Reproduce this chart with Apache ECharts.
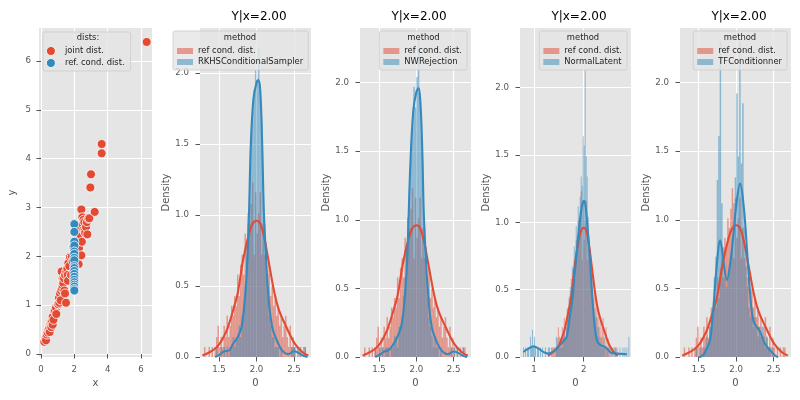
<!DOCTYPE html>
<html>
<head>
<meta charset="utf-8">
<title>Y|x=2.00</title>
<script src="https://cdn.jsdelivr.net/npm/echarts@6.0.0/dist/echarts.min.js"></script>
<style>
html, body { margin: 0; padding: 0; background: #fff; }
#chart { width: 800px; height: 400px; }
</style>
</head>
<body>
<div id="chart"></div>
<script>
var FONT = 'DejaVu Sans';
var RED = '#E24A33', BLUE = '#348ABD';
var RED_A = 'rgba(226,74,51,0.5)', BLUE_A = 'rgba(52,138,189,0.5)';

// ---- scatter panel: joint sample and reference conditional sample at x=2
var jointX = [0.20, 0.28, 0.30, 0.35, 0.40, 0.45, 0.50, 0.52, 0.55, 0.58, 0.64, 0.62, 0.70, 0.70, 0.75, 0.80,
  0.84, 0.90, 0.92, 1.00, 1.04, 1.08, 1.10, 1.14, 1.18, 1.20, 1.24, 1.25, 1.30, 1.30, 1.34, 1.38, 1.40, 1.44,
  1.45, 1.50, 1.52, 1.58, 1.60, 1.62, 1.64, 1.70, 1.74, 1.80, 1.85, 1.90, 1.95, 2.05, 2.10, 2.15, 2.20, 2.26,
  2.28, 2.28, 2.30, 2.35, 2.40, 2.42, 2.42, 2.45, 2.48, 2.50, 2.54, 2.55, 2.60, 2.62, 2.65, 2.70, 2.75, 2.78,
  2.84, 2.90, 2.96, 3.00, 3.22, 3.64, 3.64, 6.34];
var jointY = [0.25, 0.32, 0.28, 0.40, 0.44, 0.50, 0.53, 0.45, 0.62, 0.60, 0.66, 0.55, 0.76, 0.60, 0.70, 0.88,
  0.89, 0.95, 0.82, 1.02, 1.02, 1.15, 1.05, 1.24, 1.10, 1.30, 1.69, 1.35, 1.40, 1.55, 1.45, 1.55, 1.30, 1.24,
  1.62, 1.05, 1.70, 1.75, 1.62, 1.50, 1.86, 1.80, 1.99, 1.62, 2.00, 1.90, 2.20, 1.75, 2.15, 2.30, 2.00, 1.84,
  2.34, 2.17, 2.55, 2.45, 2.60, 2.02, 2.96, 2.30, 2.80, 2.65, 2.54, 2.75, 2.70, 2.52, 2.48, 2.60, 2.70, 2.45,
  2.77, 2.78, 3.41, 3.68, 2.91, 4.11, 4.30, 6.39];
var refX = [2, 2, 2, 2, 2, 2, 2, 2, 2, 2, 2, 2, 2, 2, 2, 2, 2, 2, 2];
var refY = [2.66, 2.50, 2.30, 2.22, 2.10, 2.05, 1.97, 1.92, 1.80, 1.76, 1.70, 1.64, 1.58, 1.52, 1.47, 1.42,
  1.38, 1.33, 1.30];
var scatterXTicks = [0, 2, 4, 6];
var scatterYTicks = [0, 1, 2, 3, 4, 5, 6];

// ---- histograms (density), bins of 0.02
var binWidth = 0.02;
var binStart = 1.30;      // ref, RKHS, NW, TF
var latentStart = 0.78;   // NormalLatent
var refHist = [0.07, 0, 0, 0.07, 0, 0.07, 0, 0.07, 0.14, 0.22,
  0.07, 0.14, 0.07, 0.22, 0.14, 0.29, 0.14, 0.22, 0.36, 0.29,
  0.43, 0.36, 0.58, 0.43, 0.65, 0.72, 0.58, 0.87, 0.80, 1.01,
  0.94, 1.08, 1.23, 0.72, 1.16, 0.87, 1.01, 1.16, 0.72, 0.94,
  0.72, 0.80, 0.58, 0.65, 0.43, 0.50, 0.36, 0.43, 0.29, 0.36,
  0.22, 0.29, 0.14, 0.22, 0.29, 0.14, 0.07, 0.22, 0.07, 0.14,
  0.07, 0, 0.07, 0, 0.07, 0, 0.07, 0.07, 0];
var rkhsHist = [0, 0, 0, 0, 0, 0, 0, 0, 0.07, 0,
  0, 0.07, 0, 0.07, 0, 0.07, 0, 0.07, 0.07, 0.14,
  0.07, 0.14, 0.14, 0.22, 0.14, 0.29, 0.36, 0.50, 0.72, 0.94,
  1.30, 1.52, 1.73, 1.88, 2.02, 1.95, 2.17, 1.88, 1.66, 1.30,
  0.94, 0.72, 0.43, 0.29, 0.22, 0.14, 0.14, 0.07, 0.07, 0.07,
  0, 0.07, 0, 0, 0, 0, 0, 0, 0.07, 0.07,
  0.07, 0, 0, 0.07, 0, 0, 0, 0.07, 0];
var nwHist = [0, 0, 0, 0, 0, 0, 0, 0.07, 0, 0,
  0.07, 0, 0.07, 0, 0.07, 0.07, 0.07, 0, 0.07, 0.07,
  0.15, 0.15, 0.07, 0.22, 0.22, 0.29, 0.44, 0.58, 0.80, 1.02,
  1.24, 1.46, 1.68, 1.97, 1.82, 2.04, 2.33, 1.90, 1.60, 1.24,
  0.95, 0.66, 0.44, 0.29, 0.22, 0.15, 0.07, 0.15, 0.07, 0.07,
  0, 0.07, 0, 0, 0, 0, 0, 0, 0.07, 0,
  0.07, 0, 0.07, 0, 0, 0, 0.07, 0, 0];
var latentHist = [0.07, 0, 0.07, 0, 0.07, 0.07, 0, 0.15, 0.07, 0.20,
  0.07, 0.15, 0.07, 0, 0.07, 0.07, 0, 0.07, 0, 0.07,
  0, 0, 0.07, 0, 0, 0.07, 0, 0, 0.07, 0,
  0.07, 0, 0.07, 0.15, 0.07, 0.07, 0.15, 0.07, 0.15, 0.07,
  0.15, 0.22, 0.15, 0.22, 0.30, 0.37, 0.45, 0.52, 0.45, 0.67,
  0.60, 0.82, 0.75, 0.97, 0.90, 1.12, 1.04, 1.19, 1.34, 1.27,
  1.64, 1.57, 2.13, 1.49, 1.34, 1.04, 0.90, 0.75, 0.60, 0.52,
  0.37, 0.30, 0.22, 0.30, 0.15, 0.22, 0.15, 0.07, 0.15, 0.07,
  0.07, 0.15, 0.07, 0, 0.07, 0.07, 0, 0.07, 0, 0.07,
  0, 0, 0.07, 0, 0.07, 0, 0, 0.07, 0, 0,
  0.07, 0, 0.07, 0, 0.07, 0, 0.15];
var tfHist = [0, 0, 0, 0, 0, 0, 0, 0, 0.07, 0,
  0, 0.07, 0, 0.07, 0.07, 0.15, 0.07, 0.22, 0.29, 0.36,
  0.58, 0.73, 1.29, 1.61, 2.30, 1.12, 0.80, 0.58, 0.51, 0.58,
  0.66, 0.73, 0.87, 1.12, 1.31, 1.92, 1.46, 2.30, 1.41, 1.85,
  0.95, 0.66, 0.51, 0.36, 0.29, 0.36, 0.22, 0.29, 0.22, 0.15,
  0.22, 0.15, 0.22, 0.15, 0.07, 0.15, 0.07, 0.07, 0, 0.07,
  0, 0, 0, 0, 0, 0, 0, 0, 0];

// ---- KDE curves
var refKdeX = [1.28, 1.38, 1.45, 1.51, 1.57, 1.62, 1.70, 1.75, 1.82, 1.90, 1.95, 2.00, 2.05, 2.10, 2.16, 2.24, 2.30, 2.40, 2.51, 2.61, 2.69];
var refKdeY = [0.01, 0.035, 0.06, 0.094, 0.15, 0.21, 0.35, 0.45, 0.68, 0.87, 0.94, 0.96, 0.94, 0.85, 0.68, 0.45, 0.33, 0.21, 0.094, 0.035, 0.01];
var rkhsKdeX = [1.45, 1.52, 1.57, 1.63, 1.69, 1.75, 1.80, 1.84, 1.86, 1.88, 1.90, 1.925, 1.96, 2.00, 2.025, 2.05, 2.076, 2.10, 2.13, 2.156, 2.21, 2.29, 2.35, 2.42, 2.50, 2.56, 2.62, 2.68];
var rkhsKdeY = [0.0, 0.02, 0.04, 0.045, 0.094, 0.14, 0.21, 0.38, 0.50, 0.70, 1.0, 1.5, 1.82, 1.93, 1.95, 1.88, 1.5, 1.0, 0.68, 0.45, 0.21, 0.094, 0.04, 0.02, 0.04, 0.03, 0.01, 0.0];
var nwKdeX = [1.45, 1.52, 1.57, 1.63, 1.69, 1.75, 1.80, 1.84, 1.87, 1.89, 1.92, 1.96, 2.00, 2.03, 2.055, 2.08, 2.10, 2.13, 2.16, 2.21, 2.29, 2.35, 2.42, 2.50, 2.56, 2.62, 2.68];
var nwKdeY = [0.0, 0.02, 0.04, 0.05, 0.09, 0.15, 0.23, 0.40, 0.62, 0.90, 1.40, 1.80, 1.93, 1.96, 1.85, 1.50, 1.05, 0.70, 0.45, 0.21, 0.09, 0.04, 0.02, 0.04, 0.03, 0.01, 0.0];
var latentKdeX = [0.785, 0.88, 0.986, 1.10, 1.20, 1.29, 1.42, 1.52, 1.60, 1.66, 1.72, 1.77, 1.82, 1.86, 1.92, 1.97, 2.01, 2.05, 2.10, 2.13, 2.19, 2.26, 2.33, 2.43, 2.50, 2.56, 2.70, 2.87];
var latentKdeY = [0.037, 0.06, 0.079, 0.06, 0.035, 0.025, 0.05, 0.087, 0.12, 0.15, 0.30, 0.42, 0.62, 0.78, 1.0, 1.13, 1.16, 1.08, 0.85, 0.70, 0.36, 0.13, 0.09, 0.075, 0.05, 0.03, 0.025, 0.02];
var tfKdeX = [1.50, 1.55, 1.59, 1.65, 1.69, 1.74, 1.787, 1.83, 1.876, 1.92, 1.964, 2.00, 2.053, 2.10, 2.142, 2.18, 2.23, 2.29, 2.33, 2.38, 2.45, 2.52, 2.56];
var tfKdeY = [0.0, 0.01, 0.04, 0.12, 0.32, 0.66, 0.85, 0.70, 0.56, 0.68, 0.90, 1.10, 1.264, 1.10, 0.80, 0.50, 0.26, 0.21, 0.17, 0.10, 0.05, 0.01, 0.0];

var methods = ['RKHSConditionalSampler', 'NWRejection', 'NormalLatent', 'TFConditionner'];
var densityTicks = [0, 0.5, 1.0, 1.5, 2.0];
var histXTicks = [1.5, 2.0, 2.5];
var latentXTicks = [1, 2];
var refName = 'ref cond. dist.';

// ---- layout of the four density panels
var panels = [
  { left: 200, xMin: 1.247, xMax: 2.727, yMax: 2.317, ticks: histXTicks, hist: rkhsHist, start: binStart,
    kx: rkhsKdeX, ky: rkhsKdeY, legend: { left: 173 }, titleX: 240 },
  { left: 360, xMin: 1.246, xMax: 2.732, yMax: 2.398, ticks: histXTicks, hist: nwHist, start: binStart,
    kx: nwKdeX, ky: nwKdeY, legend: { right: 333 }, titleX: 423.5 },
  { left: 520, xMin: 0.718, xMax: 2.952, yMax: 2.443, ticks: latentXTicks, hist: latentHist, start: latentStart,
    kx: latentKdeX, ky: latentKdeY, legend: { right: 173 }, titleX: 583 },
  { left: 680, xMin: 1.251, xMax: 2.731, yMax: 2.398, ticks: histXTicks, hist: tfHist, start: binStart,
    kx: tfKdeX, ky: tfKdeY, legend: { right: 13 }, titleX: 740 }
];

function pairs(xs, ys) {
  return xs.map(function (x, i) { return [x, ys[i]]; });
}
function bins(values, start) {
  var out = [];
  values.forEach(function (v, i) {
    if (v > 0) out.push([start + i * binWidth, start + (i + 1) * binWidth, v]);
  });
  return out;
}
function barRenderer(fill) {
  return function (params, api) {
    var a = api.coord([api.value(0), api.value(2)]);
    var b = api.coord([api.value(1), 0]);
    return {
      type: 'rect',
      shape: { x: a[0], y: a[1], width: b[0] - a[0], height: b[1] - a[1] },
      style: { fill: fill }
    };
  };
}
function axis(extra, ticks, fmt, margin) {
  var base = {
    type: 'value',
    axisLine: { show: false },
    axisTick: { show: true, length: 4.5, customValues: ticks, lineStyle: { color: '#555', width: 1 } },
    axisLabel: { customValues: ticks, color: '#555', fontSize: 8.6, fontFamily: FONT, margin: margin, formatter: fmt },
    splitLine: { show: true, lineStyle: { color: '#fff', width: 1.1 } },
    nameLocation: 'middle',
    nameTextStyle: { color: '#555', fontSize: 10, fontFamily: FONT }
  };
  for (var k in extra) base[k] = extra[k];
  return base;
}
function fixed1(v) { return v.toFixed(1); }
function plain(v) { return String(Math.round(v)); }

var grids = [{ left: 39, top: 28, width: 113, height: 329 }];
var xAxes = [axis({ gridIndex: 0, min: -0.12, max: 6.66, name: 'x', nameGap: 21 }, scatterXTicks, plain, 8)];
var yAxes = [axis({ gridIndex: 0, min: -0.061, max: 6.676, name: 'y', nameGap: 22 }, scatterYTicks, plain, 8)];
var titles = [];
var legends = [{
  orient: 'vertical', left: 43, top: 32, padding: [14, 6, 3, 3],
  itemWidth: 18, itemHeight: 9, itemGap: 2, icon: 'circle', selectedMode: false,
  backgroundColor: 'rgba(229,229,229,0.8)', borderColor: 'rgba(204,204,204,0.8)', borderWidth: 1, borderRadius: 2,
  textStyle: { fontFamily: FONT, fontSize: 8.4, color: '#222', lineHeight: 10 },
  data: [
    { name: 'joint dist.', itemStyle: { color: RED, borderColor: '#fff', borderWidth: 0.8 } },
    { name: 'ref. cond. dist.', itemStyle: { color: BLUE, borderColor: '#fff', borderWidth: 0.8 } }
  ]
}];
var graphics = [{
  type: 'text', x: 88, y: 38, z: 100,
  style: { text: 'dists:', fill: '#222', fontSize: 8.4, fontFamily: FONT, align: 'center', verticalAlign: 'middle' }
}];
var series = [
  { type: 'scatter', name: 'joint dist.', xAxisIndex: 0, yAxisIndex: 0, data: pairs(jointX, jointY),
    symbolSize: 9, itemStyle: { color: RED, borderColor: '#fff', borderWidth: 0.8, opacity: 1 } },
  { type: 'scatter', name: 'ref. cond. dist.', xAxisIndex: 0, yAxisIndex: 0, data: pairs(refX, refY),
    symbolSize: 9, itemStyle: { color: BLUE, borderColor: '#fff', borderWidth: 0.8, opacity: 1 } }
];

panels.forEach(function (p, k) {
  var g = k + 1;
  grids.push({ left: p.left, top: 28, width: 111, height: 329 });
  xAxes.push(axis({ gridIndex: g, min: p.xMin, max: p.xMax, name: '0', nameGap: 21 },
    p.ticks, p.ticks === latentXTicks ? plain : fixed1, 8));
  yAxes.push(axis({ gridIndex: g, min: 0, max: p.yMax, name: 'Density', nameGap: 29 }, densityTicks, fixed1, 11));
  titles.push({
    text: 'Y|x=2.00', left: p.left + 54, top: 6, textAlign: 'center',
    textStyle: { fontFamily: FONT, fontSize: 12, fontWeight: 'normal', color: '#000' }
  });
  var lg = {
    orient: 'vertical', top: 31, padding: [15, 5, 3, 4],
    itemWidth: 16, itemHeight: 6, itemGap: 1, icon: 'rect', selectedMode: false,
    backgroundColor: 'rgba(229,229,229,0.8)', borderColor: 'rgba(204,204,204,0.8)', borderWidth: 1, borderRadius: 2,
    textStyle: { fontFamily: FONT, fontSize: 8.4, color: '#222', lineHeight: 10 },
    data: [
      { name: refName, itemStyle: { color: RED_A } },
      { name: methods[k], itemStyle: { color: BLUE_A } }
    ]
  };
  for (var key in p.legend) lg[key] = p.legend[key];
  legends.push(lg);
  graphics.push({
    type: 'text', x: p.titleX, y: 38, z: 100,
    style: { text: 'method', fill: '#222', fontSize: 8.4, fontFamily: FONT, align: 'center', verticalAlign: 'middle' }
  });
  series.push({
    type: 'custom', name: refName, xAxisIndex: g, yAxisIndex: g, renderItem: barRenderer(RED_A),
    itemStyle: { color: RED_A }, encode: { x: [0, 1], y: 2 }, data: bins(refHist, binStart), z: 2
  });
  series.push({
    type: 'custom', name: methods[k], xAxisIndex: g, yAxisIndex: g, renderItem: barRenderer(BLUE_A),
    itemStyle: { color: BLUE_A }, encode: { x: [0, 1], y: 2 }, data: bins(p.hist, p.start), z: 2
  });
  series.push({
    type: 'line', name: 'ref kde ' + k, xAxisIndex: g, yAxisIndex: g, data: pairs(refKdeX, refKdeY),
    smooth: 0.4, showSymbol: false, symbol: 'none', lineStyle: { color: RED, width: 2.1 }, itemStyle: { color: RED }, z: 3
  });
  series.push({
    type: 'line', name: methods[k] + ' kde', xAxisIndex: g, yAxisIndex: g, data: pairs(p.kx, p.ky),
    smooth: 0.4, showSymbol: false, symbol: 'none', lineStyle: { color: BLUE, width: 2.1 }, itemStyle: { color: BLUE }, z: 4
  });
});

grids.forEach(function (gr) {
  gr.show = true; gr.backgroundColor = '#E5E5E5'; gr.borderWidth = 0; gr.containLabel = false;
});

var chart = echarts.init(document.getElementById('chart'));
chart.setOption({
  animation: false,
  textStyle: { fontFamily: FONT },
  title: titles,
  legend: legends,
  grid: grids,
  xAxis: xAxes,
  yAxis: yAxes,
  graphic: graphics,
  series: series
});
</script>
</body>
</html>
